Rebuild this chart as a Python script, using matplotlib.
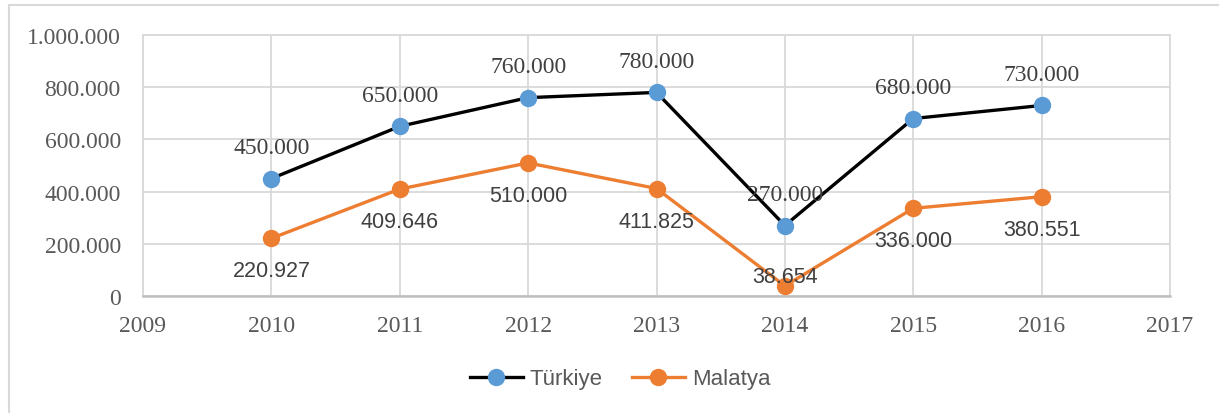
import matplotlib
matplotlib.use("Agg")
import matplotlib.pyplot as plt
from matplotlib.lines import Line2D
from matplotlib.ticker import FuncFormatter

years = [2010, 2011, 2012, 2013, 2014, 2015, 2016]
turkiye = [450000, 650000, 760000, 780000, 270000, 680000, 730000]
malatya = [220927, 409646, 510000, 411825, 38654, 336000, 380551]
turkiye_labels = ["450.000", "650.000", "760.000", "780.000", "270.000", "680.000", "730.000"]
malatya_labels = ["220.927", "409.646", "510.000", "411.825", "38.654", "336.000", "380.551"]
series_names = ["Türkiye", "Malatya"]

W, H = 1219, 414
fig = plt.figure(figsize=(W / 100, H / 100), dpi=100)
ax = fig.add_axes([143 / W, 1 - 297 / H, (1170 - 143) / W, (297 - 36) / H])

serif = ["Liberation Serif", "DejaVu Serif"]
sans = ["Liberation Sans", "DejaVu Sans"]

grid_c = "#d9d9d9"
ax.set_xlim(2009, 2017)
ax.set_ylim(0, 1000000)
ax.set_xticks(range(2009, 2018))
ax.set_yticks(range(0, 1000001, 200000))
ax.grid(True, color=grid_c, linewidth=1.3)
ax.set_axisbelow(True)
for s in ["left", "right", "top"]:
    ax.spines[s].set_color(grid_c)
    ax.spines[s].set_linewidth(1.3)
ax.spines["bottom"].set_color("#bfbfbf")
ax.spines["bottom"].set_linewidth(1.8)
ax.tick_params(length=0)
ax.tick_params(axis="y", pad=16)
ax.tick_params(axis="x", pad=14)
ax.yaxis.set_major_formatter(FuncFormatter(lambda v, p: f"{int(v):,}".replace(",", ".")))
for lab in ax.get_xticklabels() + ax.get_yticklabels():
    lab.set_fontfamily(serif)
    lab.set_fontsize(17)
    lab.set_color("#595959")

blue = "#5B9BD5"
orange = "#ED7D31"
ax.plot(years, turkiye, color="black", linewidth=2.4, marker="o", markersize=11.5,
        markerfacecolor=blue, markeredgecolor=blue, zorder=3, clip_on=False)
ax.plot(years, malatya, color=orange, linewidth=2.4, marker="o", markersize=11.5,
        markerfacecolor=orange, markeredgecolor=orange, zorder=3, clip_on=False)

for x, y, t in zip(years, turkiye, turkiye_labels):
    ax.annotate(t, (x, y), xytext=(0, 22.5), textcoords="offset points", ha="center", va="center",
                fontfamily=serif, fontsize=17, color="#404040", zorder=5)
for x, y, t in zip(years, malatya, malatya_labels):
    dy = -23.5
    if y < 100000:
        dy = 7
    ax.annotate(t, (x, y), xytext=(0, dy), textcoords="offset points", ha="center", va="center",
                fontfamily=sans, fontsize=15.5, color="#404040", zorder=5)

handles = [
    Line2D([], [], color="black", linewidth=2.4, marker="o", markersize=11.5,
           markerfacecolor=blue, markeredgecolor=blue),
    Line2D([], [], color=orange, linewidth=2.4, marker="o", markersize=11.5,
           markerfacecolor=orange, markeredgecolor=orange),
]
leg = fig.legend(handles, series_names, loc="center", bbox_to_anchor=(620 / W, 1 - 380 / H),
                 ncol=2, frameon=False, prop={"family": sans, "size": 16},
                 handlelength=2.4, handletextpad=0.3, columnspacing=1.3)
for t in leg.get_texts():
    t.set_color("#595959")

# outer chart border
fig.add_artist(Line2D([9 / W, 9 / W], [0, 1 - 6 / H], color=grid_c, linewidth=1.5))
fig.add_artist(Line2D([9 / W, 1], [1 - 6 / H, 1 - 6 / H], color=grid_c, linewidth=1.5))

fig.savefig("out.png", dpi=100)
